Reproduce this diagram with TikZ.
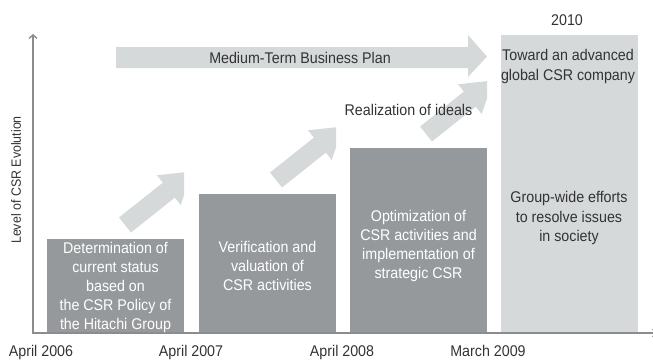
\documentclass[tikz,border=0pt]{standalone}
\usepackage{fontspec}
\usetikzlibrary{arrows.meta}
\setmainfont{Liberation Sans}[FakeStretch=0.92]
\definecolor{bardark}{HTML}{96999C}
\definecolor{barlight}{HTML}{D6D9DA}
\definecolor{axisgray}{HTML}{8A8C8E}
\definecolor{textdark}{HTML}{333333}

\begin{document}
\begin{tikzpicture}[x=1pt, y=1pt,
    lbl/.style={font=\fontsize{15.5}{19.2}\selectfont, text=textdark, inner sep=0pt, align=center},
    wlbl/.style={lbl, text=white},
    darkbar/.style={fill=bardark, draw=none, inner sep=0pt, anchor=south west, minimum width=137},
    lightbar/.style={fill=barlight, draw=none, inner sep=0pt, anchor=south west, minimum width=137}]
  \useasboundingbox (0, 0) rectangle (653, 360);

  \node[darkbar, minimum height=94] (stage1) at (47, 27) {};
  \node[darkbar, minimum height=139] (stage2) at (199, 27) {};
  \node[darkbar, minimum height=185] (stage3) at (350, 27) {};
  \node[lightbar, minimum height=298] (goal) at (501, 27) {};

  \fill[barlight] (116, 292) -- (468, 292) -- (468, 283) -- (487, 303.5)
    -- (468, 325) -- (468, 313) -- (116, 313) -- cycle;

  \foreach \tx/\ty/\cx in {125/135/184, 276/180/336, 426/226/487} {
    \begin{scope}
      \clip (\tx-30, \ty-30) rectangle (\cx, \ty+90);
      \fill[barlight, shift={(\tx, \ty)}, rotate=38.5] (0, -9.6) -- (56, -9.6) -- (56, -19)
        -- (86, 0) -- (56, 19) -- (56, 9.6) -- (0, 9.6) -- cycle;
    \end{scope}
  }

  \draw[{Straight Barb[length=3.5pt, width=8pt]}-{Straight Barb[length=3.5pt, width=8pt]}, axisgray, line width=1.4pt]
    (33, 326) |- (657, 27);

  \node[wlbl] (t1) at (115.5, 72.5) {Determination of\\current status\\based on\\the CSR Policy of\\the Hitachi Group};
  \node[wlbl] (t2) at (267.5, 94) {Verification and\\valuation of\\CSR activities};
  \node[wlbl] (t3) at (418.5, 114) {Optimization of\\CSR activities and\\implementation of\\strategic CSR};
  \node[lbl] (t4) at (569, 142) {Group-wide efforts\\to resolve issues\\in society};
  \node[lbl] (t5) at (568, 293.5) {Toward an advanced\\global CSR company};
  \node[lbl] (year) at (567, 340) {2010};
  \node[lbl] (plan) at (300, 302) {Medium-Term Business Plan};
  \node[lbl] (ideals) at (408.5, 250) {Realization of ideals};
  \node[lbl, font=\fontsize{13.5}{16}\selectfont, rotate=90] (level) at (16, 180) {Level of CSR Evolution};

  \node[lbl, anchor=base] (d1) at (41, 3.5) {April 2006};
  \node[lbl, anchor=base] (d2) at (191, 3.5) {April 2007};
  \node[lbl, anchor=base] (d3) at (342, 3.5) {April 2008};
  \node[lbl, anchor=base] (d4) at (488, 3.5) {March 2009};
\end{tikzpicture}
\end{document}
